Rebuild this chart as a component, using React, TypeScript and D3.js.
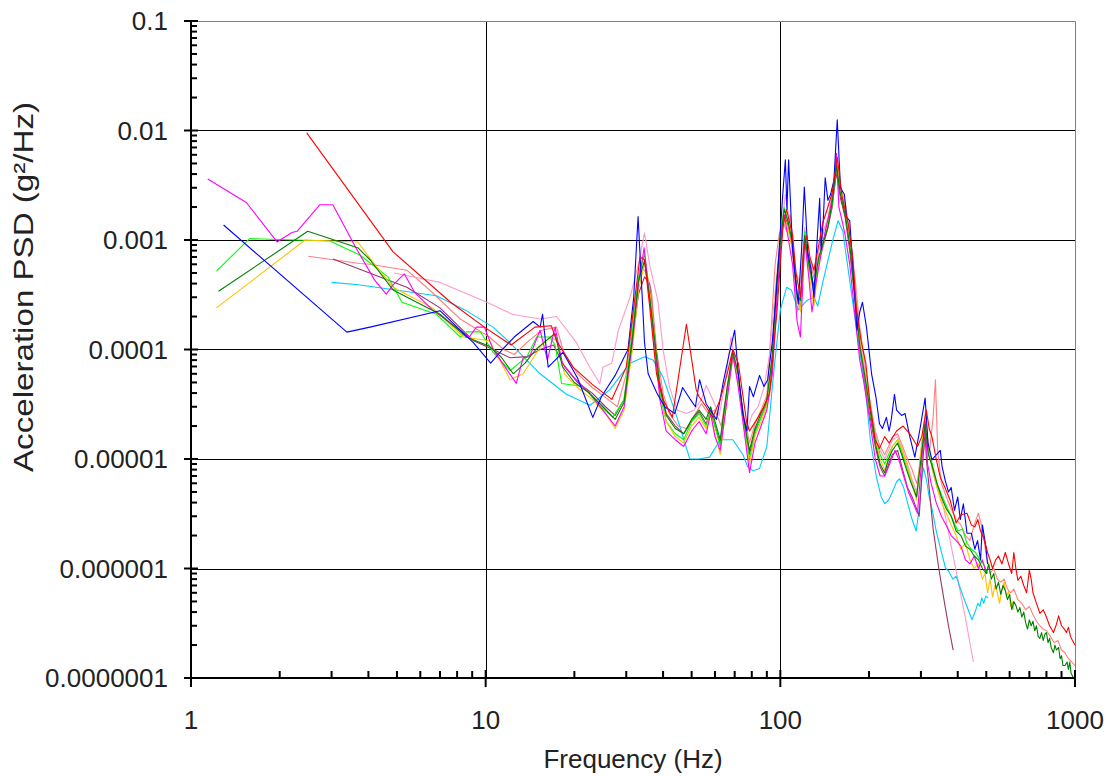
import React, { useEffect, useRef } from 'react';
import * as d3 from 'd3';

// PSD runs, [frequency Hz, g^2/Hz]
const blue = [[1.29,1.37e-3],[3.38,1.44e-4],[4.05,1.6e-4],[7.0,2.26e-4],[8.2,1.5e-4],[9.1,1.15e-4],[10.4,7.5e-5],[11.4,1e-4],[12.5,1.3e-4],[14.5,1.8e-4],[15.3,1.6e-4],[15.6,2.1e-4],[16.3,6.9e-5],[18.3,9.4e-5],[20.5,5.5e-5],[23.1,2.4e-5],[24.7,3.7e-5],[27.5,5.8e-5],[30.4,1e-4],[31.8,3e-4],[32.9,1.64e-3],[33.8,4e-4],[34.6,1.16e-4],[35.6,6e-5],[38.1,4e-5],[40.5,3e-5],[43.8,2.6e-5],[46.6,4.5e-5],[49.5,3.5e-5],[51.5,3e-5],[53.2,5.3e-5],[56,3.2e-5],[60.7,2.3e-5],[64,5e-5],[67,9e-5],[70,1.5e-4],[72,6e-5],[74.6,2.6e-5],[77,1.8e-5],[78.6,4.6e-5],[81,3.7e-5],[85,5.8e-5],[88,4.6e-5],[90.6,5.3e-5],[94,1.2e-4],[97,3.5e-4],[100,1.2e-3],[102,2.7e-3],[104,5.4e-3],[105.3,1.9e-3],[106.7,5.4e-3],[110,8.1e-4],[112,5e-4],[115,2.6e-4],[118,8e-4],[120.6,3.05e-3],[124,7.6e-4],[127,5.5e-4],[130,3e-4],[133,9e-4],[136,2.4e-3],[137.5,8.2e-4],[140,1.6e-3],[142,3.7e-3],[145,2.3e-3],[148,2.6e-3],[152,3.5e-3],[156,1.25e-2],[160,3e-3],[165,2.6e-3],[168,1.6e-3],[172,1.5e-3],[176,6e-4],[182,1.5e-4],[186,2.2e-4],[190,2.7e-4],[196,1.6e-4],[204,6e-5],[211,3.7e-5],[217,2.1e-5],[222,1.9e-5],[229,2.4e-5],[234,1.8e-5],[238,2.3e-5],[244,3.9e-5],[248,2.8e-5],[258,2.5e-5],[265,2.6e-5],[275,1.6e-5],[286,1.04e-5],[298,1.9e-5],[310,3.6e-5],[317,1.4e-5],[327,9.8e-6],[334,1.05e-5],[349,1.2e-5],[354,8.5e-6],[363,6.3e-6],[372,5e-6],[380,5.5e-6],[390,3.4e-6],[400,4.5e-6],[408,2.8e-6],[418,3.9e-6],[430,2.1e-6],[445,2.1e-6],[457,1.5e-6],[467,1.8e-6],[478,1.2e-6],[485,2.5e-6],[498,1.6e-6],[505,1.1e-6]];

const red = [[2.47,9.5e-3],[4.85,7.8e-4],[7.6,2.7e-4],[9.9,1.6e-4],[12.2,1.1e-4],[14.7,1.6e-4],[16.7,1.65e-4],[17.4,1.2e-4],[19.8,6.9e-5],[23,4.8e-5],[26.8,3.5e-5],[30,6.9e-5],[33.4,7e-4],[34.6,6.6e-4],[36,2.5e-4],[38,6e-5],[40,3.5e-5],[43,2.4e-5],[48,1.7e-4],[51.8,4.3e-5],[53,3.7e-5],[56,3e-5],[59,2.4e-5],[62.5,3.5e-5],[66,6e-5],[69,1e-4],[72,7.5e-5],[77,2.1e-5],[78.6,1.8e-5],[84,2.4e-5],[88,3e-5],[92,4e-5],[97.5,2.3e-4],[102,1.3e-3],[105,1.9e-3],[110,1.1e-3],[113,5e-4],[117,3e-4],[120,8e-4],[123,1.1e-3],[126,7e-4],[130,5.3e-4],[135,9e-4],[139,1.4e-3],[145,2e-3],[150,2.7e-3],[156,5.7e-3],[162,2.5e-3],[170,1.4e-3],[176,7e-4],[181,2.4e-4],[188,1.2e-4],[195,7.5e-5],[202,3e-5],[210,1.5e-5],[217,1.25e-5],[226,1.6e-5],[234,1.4e-5],[248,1.8e-5],[261,2e-5],[275,1.7e-5],[292,1.3e-5],[302,1.6e-5],[313,2.8e-5],[320,1.9e-5],[327,1.6e-5],[338,1e-5],[349,6.8e-6],[362,5.5e-6],[377,4.2e-6],[395,2.6e-6],[410,3.1e-6],[430,3.2e-6],[445,2.5e-6],[457,2.4e-6],[468,2.8e-6],[478,2.2e-6],[490,1.9e-6],[505,1.4e-6],[515,1.2e-6],[525,1e-6],[538,1.2e-6],[550,1.3e-6],[565,1.1e-6],[580,1.4e-6],[595,1.1e-6],[610,9e-7],[620,1.4e-6],[630,1e-6],[640,7.8e-7],[655,8.5e-7],[670,7e-7],[685,6e-7],[700,9.6e-7],[710,8e-7],[720,6e-7],[740,4.8e-7],[760,3.9e-7],[780,4.2e-7],[800,3.6e-7],[820,3e-7],[845,2.6e-7],[865,3.1e-7],[880,3.7e-7],[900,3e-7],[920,2.8e-7],[935,2.6e-7],[950,2.9e-7],[965,2.4e-7],[980,2.2e-7],[1000,2e-7]];

const magenta = [[1.14,3.6e-3],[1.54,2.2e-3],[1.96,9.6e-4],[2.2,1.17e-3],[2.29,1.2e-3],[2.74,2.1e-3],[3.03,2.1e-3],[3.6,8.8e-4],[4.2,4.3e-4],[4.6,3.2e-4],[4.85,3.9e-4],[5.3,4.9e-4],[5.75,3.3e-4],[6.6,2.3e-4],[7.7,1.7e-4],[8.8,1.3e-4],[9.3,1.6e-4],[9.9,1.6e-4],[10.6,1e-4],[11.4,7.5e-5],[12.7,4.9e-5],[13.4,8.4e-5],[14.1,8.6e-5],[15.3,1.5e-4],[16.2,8e-5],[17.2,1.6e-4],[18.2,7.5e-5],[20,5.5e-5],[22.5,4e-5],[25,2.8e-5],[27.5,2e-5],[29.5,3e-5],[31.5,1.2e-4],[33,4e-4],[34.5,8.5e-4],[36,3e-4],[37.5,1.1e-4],[39,3.5e-5],[41,1.8e-5],[44,1.5e-5],[47,1.3e-5],[50,1.8e-5],[53,2.2e-5],[56,1.7e-5],[58,2.6e-5],[60,1.6e-5],[62.5,1.2e-5],[66,3.5e-5],[69,9e-5],[72,4.5e-5],[75,2e-5],[78.6,7.5e-6],[82,1.4e-5],[86,2e-5],[90,2.8e-5],[94,6e-5],[97,2.5e-4],[100,8e-4],[103,1.7e-3],[106,1.1e-3],[110,6e-4],[114,1.8e-4],[117,1.3e-4],[121,1e-3],[125,4.5e-4],[128,2.2e-4],[132,4e-4],[137,7e-4],[142,1.2e-3],[147,1.8e-3],[152,3e-3],[155,6.2e-3],[158,2e-3],[162,1.5e-3],[166,1.1e-3],[172,6e-4],[180,1.8e-4],[186,8e-5],[192,5e-5],[200,2.5e-5],[210,1e-5],[218,7e-6],[226,7e-6],[235,9e-6],[245,1.2e-5],[252,1e-5],[262,7e-6],[272,5e-6],[282,4e-6],[292,3.2e-6],[302,1e-5],[310,2.2e-5],[316,9e-6],[325,6e-6],[338,4e-6],[352,3e-6],[365,2.5e-6],[380,2e-6],[395,1.8e-6],[410,1.6e-6],[425,1.2e-6],[440,1.1e-6],[455,1.3e-6],[470,1e-6],[485,1.2e-6],[500,9e-7]];

const lime = [[1.22,5.2e-4],[1.58,1.03e-3],[2.96,9.8e-4],[3.74,7.3e-4],[4.66,4.6e-4],[5.2,2.7e-4],[6.8,2.1e-4],[8.2,1.3e-4],[8.6,1.45e-4],[9.6,1.45e-4],[10.6,9.4e-5],[12.1,6.4e-5],[13.8,8.6e-5],[14.9,1.3e-4],[16.5,1.3e-4],[17.2,1.1e-4],[18.1,4.9e-5],[21.4,4.6e-5],[24,3.2e-5],[27,2.4e-5],[29.5,3.5e-5],[31.5,1.5e-4],[33,4.5e-4],[34.6,7.5e-4],[36,3.2e-4],[37.5,1e-4],[39,4e-5],[41,2.2e-5],[44,1.7e-5],[47,1.5e-5],[50,2.2e-5],[53,2.6e-5],[56,2e-5],[58,2.8e-5],[60,2e-5],[62.5,1.3e-5],[66,4e-5],[69,9e-5],[72,5e-5],[75,2.2e-5],[78.6,1e-5],[82,1.7e-5],[86,2.4e-5],[90,3.2e-5],[94,9e-5],[97,4e-4],[100,1e-3],[103,2e-3],[106,1.5e-3],[110,9e-4],[114,3e-4],[117,2.6e-4],[121,1.2e-3],[125,5.5e-4],[130,3.3e-4],[135,6.5e-4],[140,1e-3],[145,1.4e-3],[150,2.1e-3],[155,4.5e-3],[160,2.6e-3],[166,1.8e-3],[172,9e-4],[180,2.8e-4],[186,1.2e-4],[193,6e-5],[200,3.5e-5],[210,1.6e-5],[218,1.1e-5],[226,9e-6],[233,1.1e-5],[240,1.3e-5],[250,1.5e-5],[260,1.1e-5],[270,8e-6],[280,6e-6],[290,4.5e-6],[300,1.1e-5],[310,2.4e-5],[318,1.2e-5],[328,9e-6],[340,6e-6],[355,4.5e-6],[370,3.5e-6],[385,2.8e-6],[400,2.2e-6],[415,2.3e-6],[430,1.7e-6],[445,1.5e-6],[460,1.4e-6],[475,1.2e-6],[490,1.1e-6],[505,9e-7]];

const darkGreen = [[1.24,3.4e-4],[2.49,1.2e-3],[3.68,8.5e-4],[4.05,6.6e-4],[4.85,3.5e-4],[7.0,2.1e-4],[8.6,1.3e-4],[10.3,1.07e-4],[11.3,8.5e-5],[12.4,6e-5],[13.6,7.5e-5],[14.8,1e-4],[16,1.2e-4],[17.2,1.4e-4],[18.2,7e-5],[20,5e-5],[22.5,4e-5],[25,3e-5],[27.5,2.3e-5],[29.5,3.3e-5],[31.5,1.3e-4],[33,4.2e-4],[34.6,6.5e-4],[36,3e-4],[37.5,1.2e-4],[39,4.5e-5],[41,2.5e-5],[44,1.9e-5],[47,1.7e-5],[50,2.3e-5],[53,2.8e-5],[56,2.3e-5],[58,3e-5],[60,2.2e-5],[62.5,1.5e-5],[66,4.5e-5],[69,9.5e-5],[72,6e-5],[75,2.4e-5],[78.6,1.2e-5],[82,1.9e-5],[86,2.6e-5],[90,3.5e-5],[94,9e-5],[97,3.8e-4],[100,9.5e-4],[103,1.9e-3],[106,1.5e-3],[110,9.5e-4],[114,3.2e-4],[117,2.8e-4],[121,1.1e-3],[125,6e-4],[130,3.8e-4],[135,7e-4],[140,9.5e-4],[145,1.3e-3],[150,2.2e-3],[155,4.8e-3],[160,2.6e-3],[166,1.7e-3],[172,9e-4],[180,2.7e-4],[186,1.1e-4],[193,6e-5],[200,3.2e-5],[210,1.4e-5],[218,9e-6],[226,7.5e-6],[233,1e-5],[240,1.2e-5],[250,1.4e-5],[258,1.1e-5],[268,8e-6],[278,6e-6],[290,4.5e-6],[300,1e-5],[310,2.1e-5],[318,1.1e-5],[328,8.5e-6],[340,6e-6],[352,4.5e-6],[366,3.5e-6],[380,3e-6],[395,2.2e-6],[410,2e-6],[425,1.6e-6],[440,1.5e-6],[455,1.3e-6],[470,1.2e-6],[485,1e-6],[500,9e-7],[510,1.1e-6],[520,8e-7],[530,9e-7],[540,6.5e-7],[550,7.5e-7],[560,5.8e-7],[570,7e-7],[580,6.3e-7],[590,5.2e-7],[600,5.8e-7],[610,4.2e-7],[620,5e-7],[630,4.6e-7],[640,4e-7],[650,4.4e-7],[660,3.6e-7],[670,4e-7],[680,3.2e-7],[690,2.8e-7],[700,3.4e-7],[710,3e-7],[720,3.3e-7],[730,2.7e-7],[740,3e-7],[750,2.4e-7],[760,2.3e-7],[770,2.6e-7],[780,2.2e-7],[790,2.5e-7],[800,2.6e-7],[810,2.1e-7],[820,2.3e-7],[830,1.9e-7],[845,1.7e-7],[855,2e-7],[865,1.8e-7],[880,1.9e-7],[890,1.5e-7],[900,1.6e-7],[910,1.3e-7],[925,1.3e-7],[940,1.4e-7],[950,1.2e-7],[960,1.4e-7],[970,1.1e-7],[980,1.05e-7],[990,9.5e-8],[1000,9e-8]];

const gold = [[1.22,2.4e-4],[2.44,1e-3],[3.0,9.8e-4],[3.68,9.6e-4],[4.05,6.8e-4],[4.85,3.7e-4],[6.6,2.4e-4],[8.4,1.3e-4],[10.3,1.2e-4],[12.1,5.3e-5],[13.4,6e-5],[15.3,1.05e-4],[16.5,1.3e-4],[17.5,1.2e-4],[18.5,6e-5],[20.5,4.5e-5],[23,3.5e-5],[25.5,2.6e-5],[27.5,1.9e-5],[29.5,2.8e-5],[31.5,1e-4],[33,3.5e-4],[34.8,6.5e-4],[36,3.5e-4],[37.5,1.3e-4],[39,4.5e-5],[41,2.2e-5],[44,1.6e-5],[47,1.4e-5],[50,2e-5],[53,2.4e-5],[56,1.9e-5],[58,2.6e-5],[60,1.7e-5],[62.5,1.1e-5],[66,3.5e-5],[69,8.5e-5],[72,5.5e-5],[75,2e-5],[78.6,9e-6],[82,1.6e-5],[86,2.2e-5],[90,3e-5],[94,7e-5],[97,3e-4],[100,8.5e-4],[103,1.6e-3],[106,1.3e-3],[110,8e-4],[114,3.2e-4],[117,2.2e-4],[121,1e-3],[125,5e-4],[130,2.5e-4],[135,6e-4],[140,9e-4],[145,1.5e-3],[150,2.4e-3],[155,5.5e-3],[160,3e-3],[166,2e-3],[172,1e-3],[180,3e-4],[186,1.2e-4],[193,6e-5],[200,3e-5],[210,1.5e-5],[218,1e-5],[226,8e-6],[233,1e-5],[240,1.3e-5],[250,1.5e-5],[260,1.2e-5],[270,8.5e-6],[280,6e-6],[290,4.2e-6],[300,1.2e-5],[310,2.6e-5],[318,1.3e-5],[328,8e-6],[340,5.5e-6],[352,4e-6],[366,3.2e-6],[380,2.5e-6],[395,2e-6],[410,1.5e-6],[425,1.7e-6],[440,1.2e-6],[455,1e-6],[470,1.1e-6],[485,8e-7],[495,9e-7],[505,6e-7],[515,8e-7],[525,5.5e-7],[535,7e-7],[545,6e-7],[555,4.8e-7],[565,6.5e-7],[575,7.5e-7],[585,5.5e-7],[595,6.2e-7],[605,4.5e-7],[615,5e-7],[620,4.2e-7]];

const cyan = [[3.0,4.1e-4],[3.7,3.9e-4],[6.8,3.1e-4],[8.5,2.3e-4],[10.6,1.6e-4],[12.1,1.15e-4],[14.1,7.5e-5],[15.3,6e-5],[18.8,3.9e-5],[22.6,3.1e-5],[26.4,4.3e-5],[30.9,7.5e-5],[34.6,8.6e-5],[37,8e-5],[40,5.6e-5],[44.6,2.4e-5],[49.3,1e-5],[53,1e-5],[57.5,1.04e-5],[62.6,1.5e-5],[69,1.5e-5],[74.6,1.1e-5],[77.5,8.5e-6],[80.8,7.8e-6],[85,8.2e-6],[90,1.3e-5],[94.6,5.6e-5],[100,2.3e-4],[105,3.7e-4],[109,3.5e-4],[115,2.3e-4],[123,2.8e-4],[130,3e-4],[134,2.5e-4],[139,4e-4],[150,9.5e-4],[157,1.5e-3],[163,1.2e-3],[170,5.3e-4],[181,1.6e-4],[195,4e-5],[202,1.5e-5],[212,6.8e-6],[220,4.5e-6],[226,3.9e-6],[233,4.2e-6],[240,5e-6],[248,6.2e-6],[254,6.6e-6],[262,5.5e-6],[270,4e-6],[280,2.8e-6],[289,2.2e-6],[296,3.5e-6],[302,6.5e-6],[306,8.3e-6],[313,6.5e-6],[320,4.5e-6],[328,3.4e-6],[338,2.2e-6],[350,1.5e-6],[364,1e-6],[372,9.5e-7],[385,8e-7],[395,8.5e-7],[405,7e-7],[418,5.5e-7],[430,4.5e-7],[440,3.8e-7],[447,3.4e-7],[458,4e-7],[468,4.8e-7],[476,4.5e-7],[482,5.4e-7],[490,4.8e-7],[498,5.6e-7],[507,5.4e-7]];

const maroon = [[3.03,6.7e-4],[3.74,5.4e-4],[5.4,3.7e-4],[7.0,2.4e-4],[9.1,1.2e-4],[10.6,1e-4],[12.1,8.4e-5],[13.8,8.6e-5],[15.3,1e-4],[17,1.1e-4],[18.5,7e-5],[20.5,5e-5],[23,4e-5],[25.5,3e-5],[27.5,2.5e-5],[29.5,3.5e-5],[31.5,1.2e-4],[33,3.2e-4],[34.6,4.6e-4],[36,4e-4],[37.5,1.3e-4],[39,5e-5],[41,2.6e-5],[44,2e-5],[47,1.7e-5],[50,2.2e-5],[53,2.7e-5],[56,2.1e-5],[58,2.7e-5],[60,2e-5],[62.5,1.4e-5],[66,4.2e-5],[69,8.5e-5],[72,5.5e-5],[75,2.3e-5],[78.6,1.1e-5],[82,1.8e-5],[86,2.4e-5],[90,3.3e-5],[94,8e-5],[97,3.5e-4],[100,9e-4],[103,1.7e-3],[106,1.4e-3],[110,8.5e-4],[114,3e-4],[117,2.5e-4],[121,1.1e-3],[125,6e-4],[130,3.5e-4],[135,6.5e-4],[140,9e-4],[145,1.3e-3],[150,2e-3],[155,4.2e-3],[160,2.4e-3],[166,1.6e-3],[172,8e-4],[180,2.5e-4],[186,1.1e-4],[193,5.5e-5],[200,2.8e-5],[210,1.3e-5],[218,8.5e-6],[226,7e-6],[233,9e-6],[240,1.1e-5],[250,1.2e-5],[260,8e-6],[270,5.5e-6],[280,4.5e-6],[290,3.5e-6],[296,3e-6],[303,8e-6],[310,1.8e-5],[313,1e-5],[330,2.3e-6],[345,1e-6],[360,5e-7],[372,3e-7],[386,1.8e-7]];

const salmon = [[2.5,7.1e-4],[3.74,6.1e-4],[4.05,6e-4],[5.4,5.3e-4],[6.3,3.7e-4],[6.6,3.3e-4],[8.2,1.9e-4],[10.3,1.3e-4],[11.5,1e-4],[12.5,9e-5],[14,1.2e-4],[15.5,1.5e-4],[17.4,1.6e-4],[18.5,9e-5],[20.5,6e-5],[23,4.5e-5],[26,3.5e-5],[28,3e-5],[30,6e-5],[32,2.5e-4],[33.5,6e-4],[35,5e-4],[36.5,3.5e-4],[38,1e-4],[40,4e-5],[42,2.6e-5],[45,2e-5],[48,1.9e-5],[51,2.5e-5],[54,3.2e-5],[57,2.6e-5],[60,2.8e-5],[63,2e-5],[66,4.5e-5],[69,1e-4],[72,5e-5],[75,2.6e-5],[78.6,1.4e-5],[82,2.1e-5],[86,2.8e-5],[90,3.8e-5],[93,1.5e-4],[96,6e-4],[99,1.1e-3],[102,1.5e-3],[105,1.2e-3],[108,1.7e-3],[111,6e-4],[114,2.2e-4],[118,3.5e-4],[121,9e-4],[125,7e-4],[130,4.5e-4],[135,8e-4],[140,1.2e-3],[145,1.5e-3],[150,2.4e-3],[155,4e-3],[160,3e-3],[166,2.2e-3],[172,1.2e-3],[180,4e-4],[186,1.6e-4],[193,8e-5],[200,3.8e-5],[210,1.8e-5],[218,1.3e-5],[226,1.1e-5],[233,1.3e-5],[240,1.6e-5],[250,1.7e-5],[260,1.3e-5],[270,1e-5],[280,8e-6],[290,6e-6],[300,9e-6],[310,1.4e-5],[320,1.1e-5],[330,2.4e-5],[336,5.3e-5],[342,1.2e-5],[352,6e-6],[366,4.5e-6],[380,3.5e-6],[395,2.8e-6],[410,2.5e-6],[425,2e-6],[440,1.8e-6],[455,2.5e-6],[470,3.2e-6],[485,2.3e-6],[500,1.3e-6],[515,9e-7],[530,1e-6],[545,8e-7],[560,7.5e-7],[575,8e-7],[590,6.5e-7],[605,6e-7],[620,6.5e-7],[640,5.2e-7],[660,4.8e-7],[680,4.2e-7],[700,4.5e-7],[720,3.8e-7],[740,3.3e-7],[760,3e-7],[780,2.8e-7],[800,2.7e-7],[825,2.4e-7],[850,2.1e-7],[875,2.2e-7],[900,1.8e-7],[925,1.7e-7],[950,1.5e-7],[975,1.4e-7],[1000,1.3e-7]];

const pink = [[4.9,5e-4],[7.0,4.1e-4],[10.1,2.7e-4],[12.3,2.1e-4],[15.3,1.9e-4],[17.4,2e-4],[20.3,1.16e-4],[22.5,7e-5],[24.4,4.9e-5],[25,6.9e-5],[26.8,7.5e-5],[28.2,1.5e-4],[30.9,3e-4],[33,6e-4],[34.6,1.16e-3],[36,6e-4],[37,4.3e-4],[38.4,2.8e-4],[40,1e-4],[42,4.6e-5],[44.6,2.8e-5],[48,2.6e-5],[51,2.8e-5],[54,3.5e-5],[56,4.7e-5],[59,3.5e-5],[62,2.5e-5],[65,5e-5],[68,1.3e-4],[71,7e-5],[74,3e-5],[77,1.8e-5],[80,2.5e-5],[84,3e-5],[88,4.5e-5],[92,9e-5],[95,2.5e-4],[98,6e-4],[101,1.3e-3],[104,2.6e-3],[107,1.6e-3],[110,1.2e-3],[113,5e-4],[117,4e-4],[121,1.3e-3],[125,7e-4],[130,5e-4],[135,8e-4],[140,1.2e-3],[145,1.6e-3],[150,2.6e-3],[155,4.5e-3],[160,3.2e-3],[166,2e-3],[172,1.1e-3],[180,3.5e-4],[186,1.5e-4],[193,7e-5],[200,3.5e-5],[210,1.8e-5],[218,1.2e-5],[226,1e-5],[233,1.2e-5],[240,1.5e-5],[250,1.6e-5],[260,1.2e-5],[270,9e-6],[280,6.5e-6],[290,5e-6],[300,1.2e-5],[310,2.5e-5],[318,1.3e-5],[328,8e-6],[340,5.5e-6],[355,4e-6],[365,2.8e-6],[380,1.6e-6],[400,8e-7],[425,3.5e-7],[452,1.4e-7]];

const runs = [
  { key: 'salmon', color: '#FF8080', points: salmon },
  { key: 'pink', color: '#FF99CC', points: pink },
  { key: 'cyan', color: '#00CCFF', points: cyan },
  { key: 'maroon', color: '#993366', points: maroon },
  { key: 'lime', color: '#00FF00', points: lime },
  { key: 'gold', color: '#FFC000', points: gold },
  { key: 'magenta', color: '#FF00FF', points: magenta },
  { key: 'darkGreen', color: '#008000', points: darkGreen },
  { key: 'blue', color: '#0000FF', points: blue },
  { key: 'red', color: '#FF0000', points: red },
];

const xTicks = [1, 10, 100, 1000];
const xTickLabels = ['1', '10', '100', '1000'];
const yTicks = [0.1, 0.01, 0.001, 0.0001, 0.00001, 0.000001, 0.0000001];
const yTickLabels = ['0.1', '0.01', '0.001', '0.0001', '0.00001', '0.000001', '0.0000001'];

const width = 1115;
const height = 778;
const margin = { top: 21, right: 40, bottom: 100, left: 191 };
const font = '"Liberation Sans", Arial, sans-serif';

const App = () => {
  const wrapper = useRef(null);

  useEffect(() => {
    d3.select(wrapper.current).selectAll('svg').remove();

    const svg = d3.select(wrapper.current)
      .append('svg')
      .attr('width', width)
      .attr('height', height)
      .style('display', 'block')
      .style('background', '#fff');

    const x = d3.scaleLog().domain([1, 1000]).range([margin.left, width - margin.right]);
    const y = d3.scaleLog().domain([1e-7, 0.1]).range([height - margin.bottom, margin.top]);
    const crisp = v => Math.round(v) + 0.5;

    const left = margin.left, right = width - margin.right;
    const top = margin.top, bottom = height - margin.bottom;

    // grid (decades) and grey frame
    svg.append('g')
      .selectAll('line')
      .data(yTicks.filter(d => d < 0.1 && d > 1e-7))
      .join('line')
      .attr('x1', left).attr('x2', right)
      .attr('y1', d => crisp(y(d))).attr('y2', d => crisp(y(d)))
      .attr('stroke', '#000').attr('stroke-width', 1);

    svg.append('g')
      .selectAll('line')
      .data(xTicks.filter(d => d > 1 && d < 1000))
      .join('line')
      .attr('y1', top).attr('y2', bottom)
      .attr('x1', d => crisp(x(d))).attr('x2', d => crisp(x(d)))
      .attr('stroke', '#000').attr('stroke-width', 1);

    svg.append('path')
      .attr('d', `M${left},${crisp(top)}H${crisp(right)}V${bottom}`)
      .attr('fill', 'none').attr('stroke', '#808080').attr('stroke-width', 1);

    svg.append('clipPath').attr('id', 'plot-clip')
      .append('rect')
      .attr('x', left).attr('y', top)
      .attr('width', right - left).attr('height', bottom - top);

    const line = d3.line()
      .x(d => x(d[0]))
      .y(d => y(d[1]));

    svg.append('g')
      .attr('clip-path', 'url(#plot-clip)')
      .selectAll('path')
      .data(runs, d => d.key)
      .join('path')
      .attr('d', d => line(d.points))
      .attr('fill', 'none')
      .attr('stroke', d => d.color)
      .attr('stroke-width', 1.1)
      .attr('stroke-linejoin', 'round');

    // axes
    const axes = svg.append('g').attr('stroke', '#000');
    axes.append('line')
      .attr('x1', left).attr('x2', left).attr('y1', top).attr('y2', bottom + 1)
      .attr('stroke-width', 2);
    axes.append('line')
      .attr('x1', left - 1).attr('x2', right).attr('y1', bottom).attr('y2', bottom)
      .attr('stroke-width', 2);

    const yMinor = [];
    for (let e = -7; e < -1; e++) {
      for (let m = 2; m <= 9; m++) yMinor.push(m * Math.pow(10, e));
    }
    const xMinor = [];
    for (let e = 0; e < 3; e++) {
      for (let m = 2; m <= 9; m++) xMinor.push(m * Math.pow(10, e));
    }

    axes.selectAll('.y-minor')
      .data(yMinor)
      .join('line')
      .attr('class', 'y-minor')
      .attr('x1', left).attr('x2', left + 6)
      .attr('y1', d => y(d)).attr('y2', d => y(d))
      .attr('stroke-width', 2);
    axes.selectAll('.y-major')
      .data(yTicks)
      .join('line')
      .attr('class', 'y-major')
      .attr('x1', left - 7).attr('x2', left + 7)
      .attr('y1', d => y(d)).attr('y2', d => y(d))
      .attr('stroke-width', 2);
    axes.selectAll('.x-minor')
      .data(xMinor)
      .join('line')
      .attr('class', 'x-minor')
      .attr('x1', d => x(d)).attr('x2', d => x(d))
      .attr('y1', bottom - 7).attr('y2', bottom)
      .attr('stroke-width', 2);
    axes.selectAll('.x-major')
      .data(xTicks)
      .join('line')
      .attr('class', 'x-major')
      .attr('x1', d => x(d)).attr('x2', d => x(d))
      .attr('y1', bottom - 8).attr('y2', bottom + 9)
      .attr('stroke-width', 2);

    svg.append('g')
      .selectAll('text')
      .data(yTicks)
      .join('text')
      .attr('x', left - 23)
      .attr('y', d => y(d))
      .attr('dy', '0.36em')
      .attr('text-anchor', 'end')
      .attr('font-family', font)
      .attr('font-size', 26)
      .attr('fill', '#222')
      .text((d, i) => yTickLabels[i]);

    svg.append('g')
      .selectAll('text')
      .data(xTicks)
      .join('text')
      .attr('x', d => x(d))
      .attr('y', bottom + 51)
      .attr('text-anchor', 'middle')
      .attr('font-family', font)
      .attr('font-size', 26)
      .attr('fill', '#222')
      .text((d, i) => xTickLabels[i]);

    svg.append('text')
      .attr('x', (left + right) / 2)
      .attr('y', bottom + 90)
      .attr('text-anchor', 'middle')
      .attr('font-family', font)
      .attr('font-size', 26)
      .attr('fill', '#222')
      .text('Frequency (Hz)');

    svg.append('text')
      .attr('transform', `translate(33,287) rotate(-90)`)
      .attr('text-anchor', 'middle')
      .attr('font-family', font)
      .attr('font-size', 27)
      .attr('textLength', 370)
      .attr('lengthAdjust', 'spacingAndGlyphs')
      .attr('fill', '#222')
      .text('Acceleration PSD (g²/Hz)');
  }, []);

  return <div ref={wrapper} style={{ position: 'absolute', left: 0, top: 0 }} />;
};

export default App;
